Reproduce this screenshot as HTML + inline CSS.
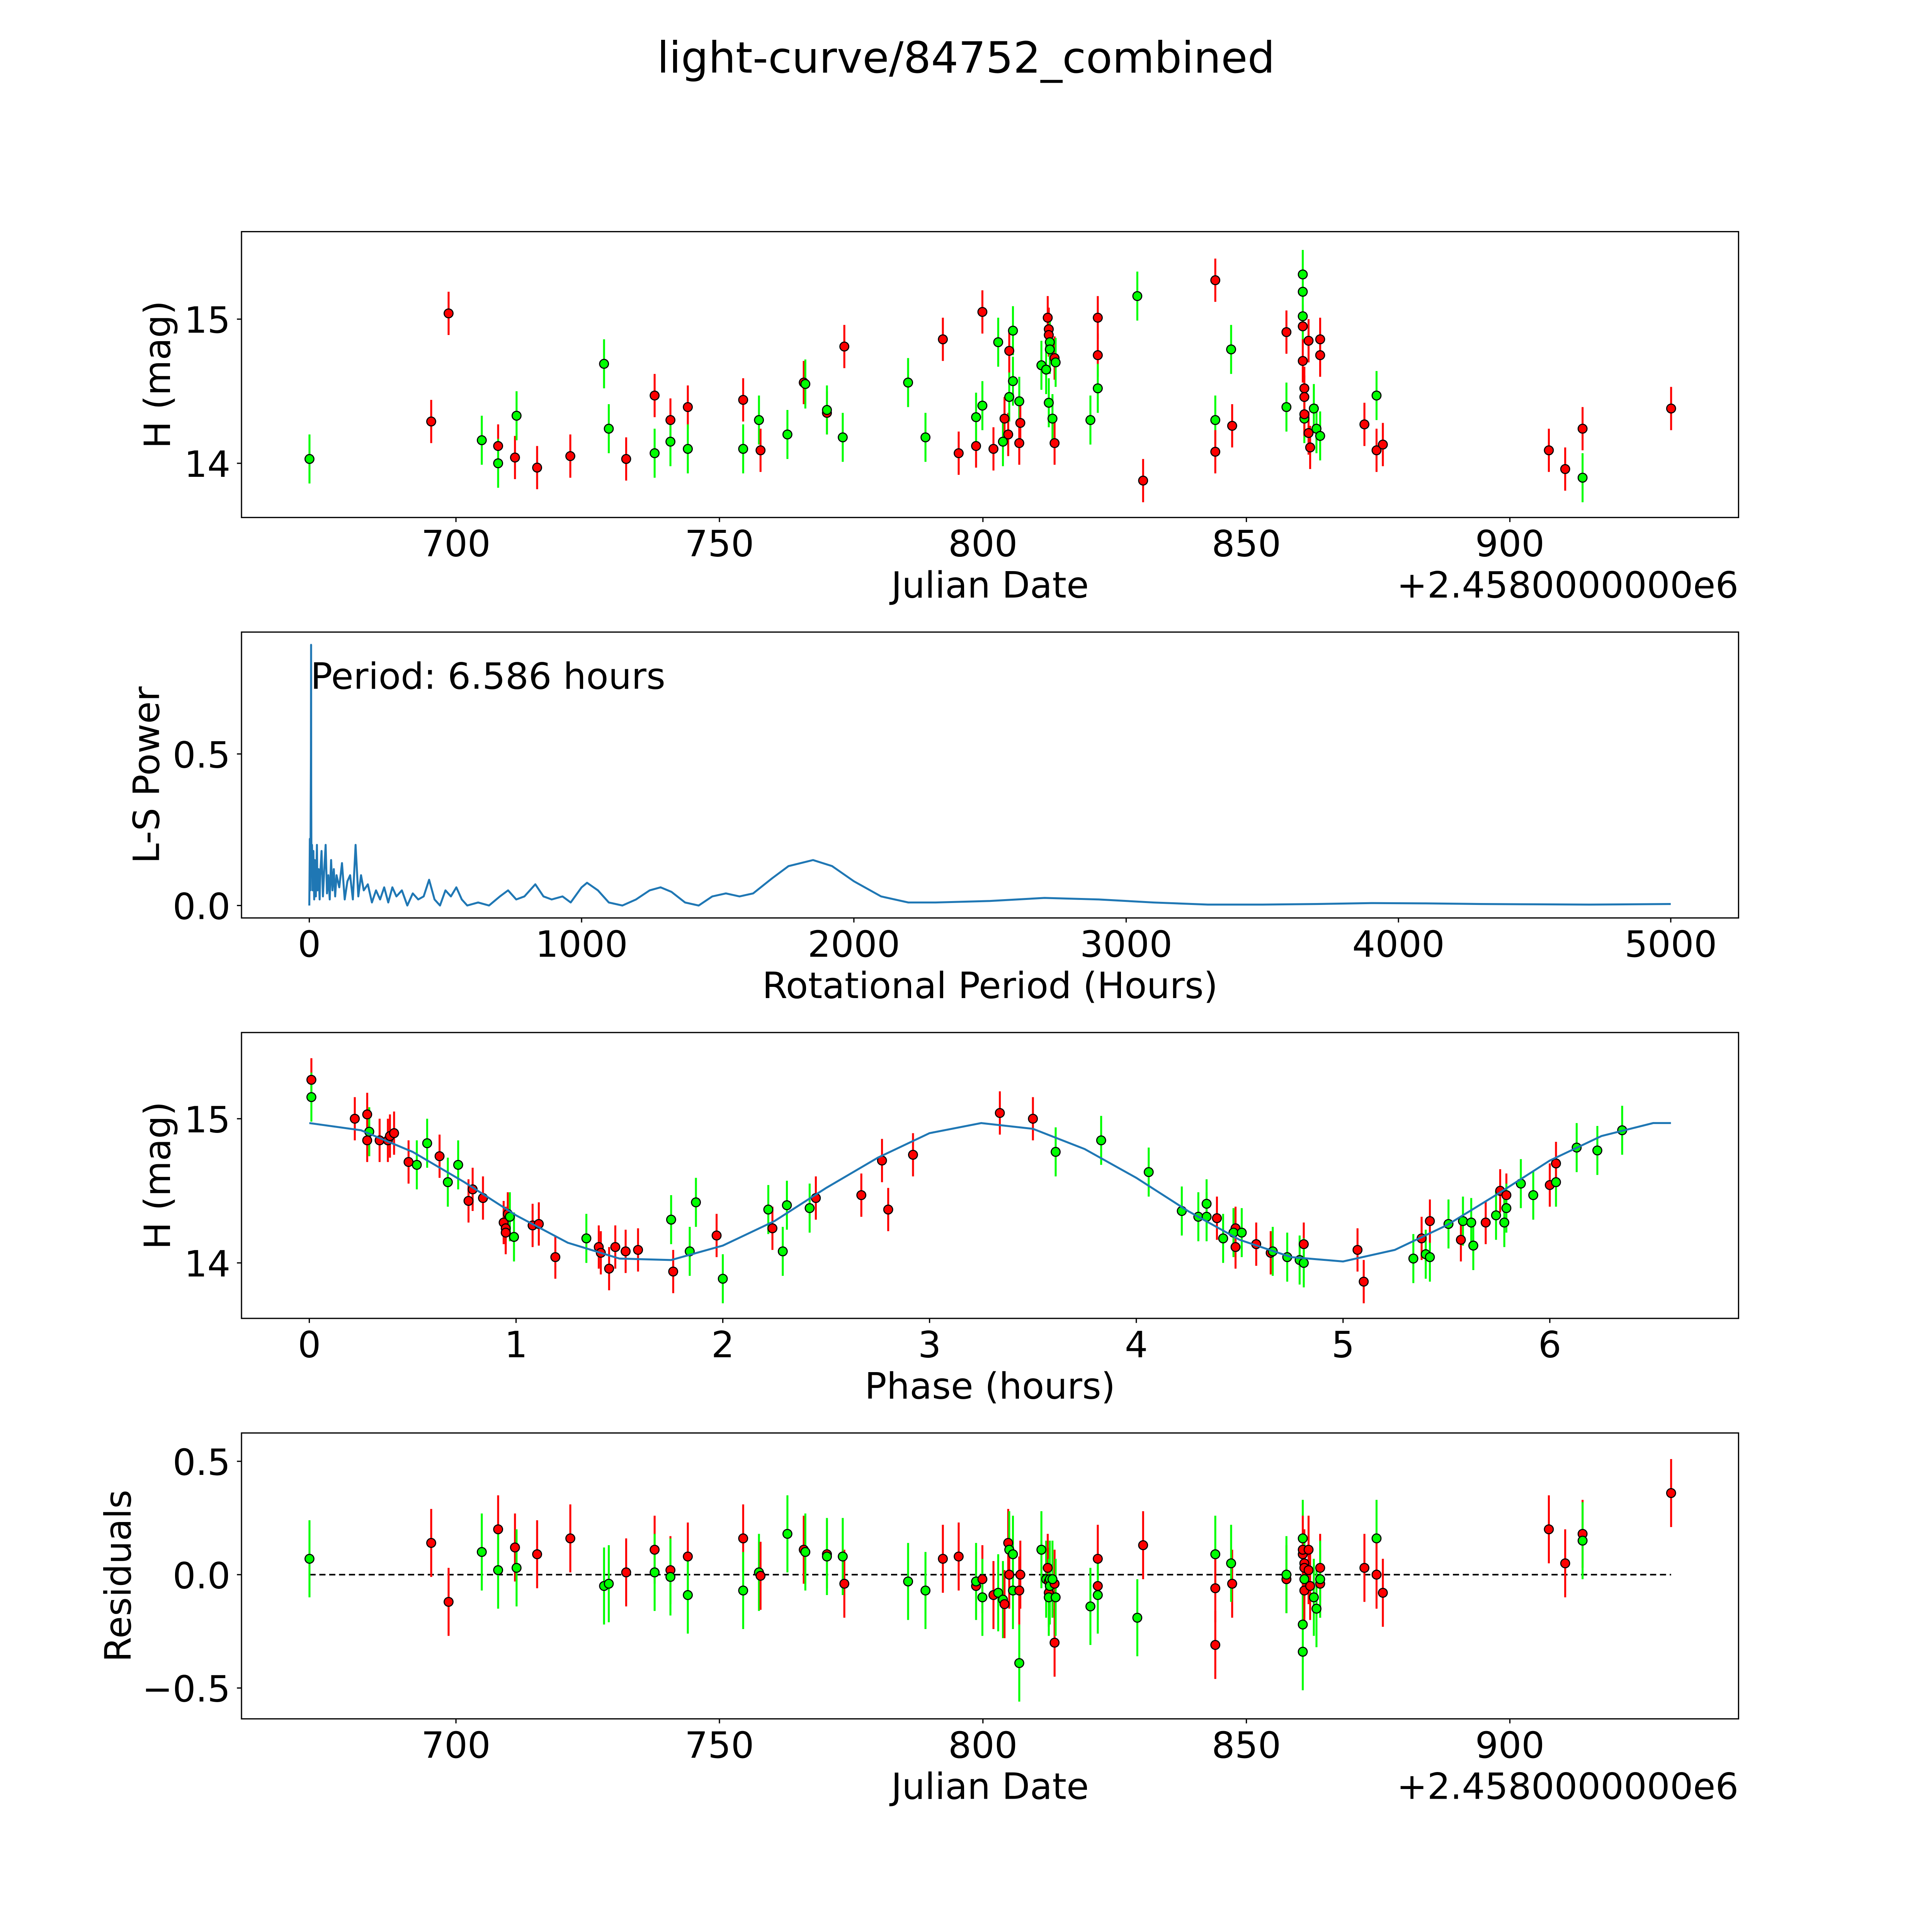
<!DOCTYPE html>
<html><head><meta charset="utf-8"><style>
html,body{margin:0;padding:0;background:#fff;width:100%;height:100%;overflow:hidden;}
svg{display:block;position:fixed;left:0;top:0;width:100vw;height:100vh;}
text{font-family:"DejaVu Sans","Liberation Sans",sans-serif;fill:#000;}
</style></head><body>
<svg id="fig" viewBox="0 0 1568 1568" preserveAspectRatio="none" xmlns="http://www.w3.org/2000/svg">
<rect width="1568" height="1568" fill="#fff"/>
<text x="784" y="59" font-size="35" text-anchor="middle">light-curve/84752_combined</text>
</svg>
<script>
// ---- data: observations (Julian date offsets, H mag, residuals, colour) ----
const obsDate = [672.2,695.3,698.6,704.9,708.0,708.0,711.2,711.5,715.4,721.7,728.1,729.0,732.3,737.7,737.7,740.7,740.7,744.0,744.0,754.5,754.5,757.5,757.8,762.9,766.0,766.3,770.4,770.4,773.7,773.4,785.8,789.1,792.4,795.4,798.7,798.7,799.9,799.9,802.0,802.9,803.8,804.1,804.8,805.0,805.0,805.7,805.7,806.9,806.9,807.1,811.1,812.0,812.3,812.5,812.5,812.5,812.7,812.7,813.6,813.2,813.6,813.8,820.4,821.8,821.8,821.8,829.3,830.4,844.1,844.1,844.1,847.3,847.1,857.6,857.6,860.7,860.7,860.7,860.7,860.7,861.0,861.0,861.0,861.0,861.8,861.8,862.1,862.8,863.3,864.0,864.0,864.0,872.4,874.7,874.7,875.9,907.4,910.5,913.8,913.8,930.6];
const obsMag = [14.03,14.29,15.04,14.16,14.12,14.00,14.04,14.33,13.97,14.05,14.69,14.24,14.03,14.47,14.07,14.30,14.15,14.39,14.10,14.44,14.10,14.30,14.09,14.20,14.56,14.55,14.35,14.37,14.81,14.18,14.56,14.18,14.86,14.07,14.12,14.32,15.05,14.40,14.10,14.84,14.15,14.31,14.20,14.46,14.78,14.92,14.57,14.43,14.14,14.28,14.68,14.65,15.01,14.93,14.89,14.42,14.84,14.79,14.73,14.31,14.14,14.70,14.30,14.75,15.01,14.52,15.16,13.88,15.27,14.30,14.08,14.26,14.79,14.91,14.39,14.95,15.02,15.19,15.31,14.71,14.52,14.46,14.31,14.34,14.85,14.21,14.11,14.38,14.24,14.86,14.75,14.19,14.27,14.47,14.09,14.13,14.09,13.96,14.24,13.90,14.38];
const obsResid = [0.07,0.14,-0.12,0.10,0.20,0.02,0.12,0.03,0.09,0.16,-0.05,-0.04,0.01,0.11,0.01,0.02,-0.01,0.08,-0.09,0.16,-0.07,0.01,-0.005,0.18,0.11,0.10,0.09,0.08,-0.04,0.08,-0.03,-0.07,0.07,0.08,-0.05,-0.03,-0.02,-0.10,-0.09,-0.08,-0.11,-0.13,0.14,0.11,0.0,-0.07,0.09,-0.39,-0.07,0.0,0.11,-0.02,0.03,-0.03,-0.08,-0.10,-0.02,-0.05,-0.04,-0.02,-0.30,-0.10,-0.14,0.07,-0.05,-0.09,-0.19,0.13,-0.31,0.09,-0.06,-0.04,0.05,-0.02,0.0,0.09,0.16,-0.22,-0.34,0.11,0.05,0.03,-0.02,-0.07,0.11,0.02,-0.05,-0.10,-0.15,0.03,-0.04,-0.02,0.03,0.16,0.0,-0.08,0.20,0.05,0.18,0.15,0.36];
const obsCol = "grrgrgrgrr"+"ggrrgrgrgr"+"ggrgrgrgrg"+"ggrrrgrgrg"+"grrgrgggrr"+"ggrrrgggrg"+"rggrrggrrg"+"rrgrgrgggr"+"rrgrrrrggr"+"rgrgrrrrrgr";
const ERR_R = 0.15, ERR_G = 0.17;
// ---- data: phase-folded ----
const phPhase = [0.01,0.01,0.22,0.28,0.29,0.28,0.34,0.38,0.39,0.41,0.48,0.52,0.57,0.63,0.67,0.72,0.77,0.79,0.84,0.94,0.95,0.96,0.97,0.95,0.99,1.08,1.11,1.19,1.34,1.40,1.41,1.45,1.48,1.53,1.59,1.75,1.76,1.84,1.87,1.97,2.00,2.22,2.24,2.29,2.31,2.42,2.45,2.67,2.77,2.80,2.92,3.34,3.50,3.61,3.83,4.06,4.22,4.30,4.34,4.34,4.39,4.42,4.48,4.47,4.48,4.51,4.58,4.65,4.66,4.73,4.79,4.81,4.81,5.07,5.10,5.34,5.38,5.40,5.42,5.42,5.51,5.57,5.58,5.62,5.63,5.69,5.74,5.76,5.78,5.79,5.79,5.86,5.92,6.00,6.03,6.03,6.13,6.23,6.35,6.44,6.51,6.54];
const phMag = [15.27,15.15,15.00,15.03,14.91,14.85,14.85,14.85,14.88,14.90,14.70,14.68,14.83,14.74,14.56,14.68,14.43,14.51,14.45,14.28,14.24,14.34,14.32,14.21,14.18,14.26,14.27,14.04,14.17,14.11,14.07,13.96,14.11,14.08,14.09,14.30,13.94,14.08,14.42,14.19,13.89,14.37,14.24,14.08,14.40,14.38,14.45,14.47,14.71,14.37,14.75,15.04,15.00,14.77,14.85,14.63,14.36,14.32,14.32,14.41,14.31,14.17,14.24,14.21,14.11,14.21,14.13,14.07,14.08,14.04,14.02,14.13,14.00,14.09,13.87,14.03,14.17,14.06,14.04,14.29,14.27,14.16,14.29,14.28,14.12,14.28,14.33,14.50,14.28,14.47,14.38,14.55,14.47,14.54,14.56,14.69,14.80,14.78,14.92,15.01,15.18,15.30];
const phCol = "rgrrgrrrrr"+"rggrggrrrr"+"rrgrgrrrgr"+"rrrrrgrggr"+"ggrgggrrrr"+"rrrgggggggrg"+"rgrgrrgggr"+"grrgrggrgr"+"gggrgrgr"+"gggrgrggg";
const modelPhase = [0,0.25,0.5,0.75,1.0,1.25,1.5,1.75,2.0,2.25,2.5,2.75,3.0,3.25,3.5,3.75,4.0,4.25,4.5,4.75,5.0,5.25,5.5,5.75,6.0,6.25,6.5,6.586];
const modelMag = [14.97,14.92,14.77,14.56,14.33,14.14,14.03,14.02,14.12,14.29,14.52,14.73,14.90,14.97,14.93,14.79,14.59,14.36,14.16,14.04,14.01,14.09,14.26,14.48,14.71,14.88,14.97,14.97];
// ---- data: periodogram ----
const lsPeriod = [0,2,4,5,6,6.6,7,8,10,12,15,18,20,24,28,30,34,38,40,45,50,55,60,65,70,75,80,85,90,95,100,110,120,130,140,150,160,170,180,190,200,215,230,245,260,275,290,305,320,340,360,380,400,420,440,460,480,500,520,540,560,580,620,660,700,730,760,790,830,860,890,930,960,1000,1020,1060,1100,1150,1200,1250,1290,1330,1380,1430,1480,1530,1580,1630,1700,1760,1850,1920,2000,2100,2200,2300,2500,2700,2900,3100,3300,3500,3700,3900,4100,4300,4500,4700,5000];
const lsPower = [0.0,0.22,0.05,0.3,0.5,0.86,0.4,0.1,0.2,0.05,0.18,0.02,0.15,0.03,0.2,0.05,0.12,0.02,0.1,0.18,0.03,0.12,0.2,0.04,0.1,0.02,0.15,0.05,0.12,0.03,0.1,0.06,0.14,0.02,0.08,0.1,0.02,0.2,0.03,0.1,0.05,0.07,0.01,0.05,0.02,0.06,0.01,0.06,0.03,0.05,0.0,0.04,0.02,0.03,0.085,0.02,0.0,0.05,0.03,0.06,0.02,0.0,0.01,0.0,0.03,0.05,0.02,0.03,0.07,0.03,0.02,0.03,0.01,0.06,0.075,0.05,0.01,0.0,0.02,0.05,0.06,0.045,0.01,0.0,0.03,0.04,0.03,0.04,0.09,0.13,0.15,0.13,0.08,0.03,0.01,0.01,0.015,0.025,0.02,0.01,0.003,0.003,0.005,0.008,0.007,0.005,0.004,0.003,0.005];
// ---- tick labels ----
const jdTicks = [700,750,800,850,900];
const magTicks = [14,15];
const lsXTicks = [0,1000,2000,3000,4000,5000];
const lsYTicks = [0.0,0.5];
const phTicks = [0,1,2,3,4,5,6];
const resTicks = [-0.5,0.0,0.5];

const NS = "http://www.w3.org/2000/svg";
const svg = document.getElementById('fig');
function mk(tag, attrs, parent){ const e=document.createElementNS(NS,tag); for(const k in attrs) e.setAttribute(k,attrs[k]); (parent||svg).appendChild(e); return e; }
function lin(d0,d1,p0,p1){ return v => p0 + (v-d0)*(p1-p0)/(d1-d0); }
const L=196,R=1411;
const xJD = lin(659.3,943.4,L,R);
const xLS = lin(-249,5249,L,R);
const xPH = lin(-0.328,6.913,L,R);
const y1 = lin(13.624,15.607,420,188);
const y2 = lin(-0.041,0.902,745,513);
const y3 = lin(13.615,15.598,1070,838);
const y4 = lin(-0.636,0.625,1395,1163);
const COLS={r:'#ff0000',g:'#00ff00'};
const FS=29.5;

function axes(name,top,bot,xs,xt,xfmt,ys,yt,yfmt,xlabel,ylabel,ylabX,offset){
  const g=mk('g',{});
  
  
  const frame=mk('rect',{x:L,y:top,width:R-L,height:bot-top,fill:'none',stroke:'#000','stroke-width':1},g);
  
  
  xt.forEach(v=>{ const x=xs(v);
    mk('line',{x1:x,x2:x,y1:bot,y2:bot+3.7,stroke:'#000','stroke-width':1},g);
    const t=mk('text',{x:x,y:bot+31.5,'font-size':FS,'text-anchor':'middle'},g); t.textContent=xfmt(v);
    
    
  });
  yt.forEach(v=>{ const y=ys(v);
    mk('line',{x1:L-3.7,x2:L,y1:y,y2:y,stroke:'#000','stroke-width':1},g);
    const t=mk('text',{x:L-9,y:y+11,'font-size':FS,'text-anchor':'end'},g); t.textContent=yfmt(v);
    
    
  });
  const xl=mk('text',{x:(L+R)/2,y:bot+65,'font-size':FS,'text-anchor':'middle'},g); xl.textContent=xlabel;
  
  
  const cy=(top+bot)/2;
  const yl=mk('text',{x:ylabX,y:cy,'font-size':FS,'text-anchor':'middle',transform:`rotate(-90 ${ylabX} ${cy})`},g); yl.textContent=ylabel;
  
  
  if(offset){ const o=mk('text',{x:R,y:bot+65,'font-size':FS,'text-anchor':'end'},g); o.textContent=offset;
    
     }
  return g;
}
function points(parent,xs,ys,xv,yv,cols,name){
  const n=Math.min(xv.length,yv.length,cols.length);
  for(let i=0;i<n;i++){
    const c=cols[i]; const e=c==='r'?ERR_R:ERR_G;
    const x=xs(xv[i]);
    const l=mk('line',{x1:x,x2:x,y1:ys(yv[i]-e),y2:ys(yv[i]+e),stroke:COLS[c],'stroke-width':1.6},parent);
    
    
  }
  for(let i=0;i<n;i++){
    const c=cols[i];
    const p=mk('circle',{cx:xs(xv[i]),cy:ys(yv[i]),r:3.6,fill:COLS[c],stroke:'#000','stroke-width':0.9},parent);
    
    
  }
}
const fmt0=v=>String(v), fmt1=v=>(v<0?'\u2212':'')+Math.abs(v).toFixed(1);
const OFF='+2.4580000000e6';

// panel 1
const g1=axes('light-curve-panel',188,420,xJD,jdTicks,fmt0,y1,magTicks,fmt0,'Julian Date','H (mag)',138,OFF);
points(g1,xJD,y1,obsDate,obsMag,obsCol,'observation');

// panel 2
const g2=axes('periodogram-panel',513,745,xLS,lsXTicks,fmt0,y2,lsYTicks,fmt1,'Rotational Period (Hours)','L-S Power',129,null);
let d='';
for(let i=0;i<lsPeriod.length;i++) d+=(i?'L':'M')+xLS(lsPeriod[i]).toFixed(2)+' '+y2(lsPower[i]).toFixed(2);
const ls=mk('path',{d:d,fill:'none',stroke:'#1f77b4','stroke-width':1.6,'stroke-linejoin':'round'},g2);


const pt=mk('text',{x:252,y:559,'font-size':FS},g2); pt.textContent='Period: 6.586 hours';



// panel 3
const g3=axes('phase-panel',838,1070,xPH,phTicks,fmt0,y3,magTicks,fmt0,'Phase (hours)','H (mag)',138,null);
points(g3,xPH,y3,phPhase,phMag,phCol,'phase');
let dm='';
for(let i=0;i<modelPhase.length;i++) dm+=(i?'L':'M')+xPH(modelPhase[i]).toFixed(2)+' '+y3(modelMag[i]).toFixed(2);
const ml=mk('path',{d:dm,fill:'none',stroke:'#1f77b4','stroke-width':1.6},g3);



// panel 4
const g4=axes('residuals-panel',1163,1395,xJD,jdTicks,fmt0,y4,resTicks,fmt1,'Julian Date','Residuals',106,OFF);
const zl=mk('line',{x1:xJD(obsDate[0]),x2:xJD(obsDate[obsDate.length-1]),y1:y4(0),y2:y4(0),stroke:'#000','stroke-width':1.3,'stroke-dasharray':'5 3'},g4);


points(g4,xJD,y4,obsDate,obsResid,obsCol,'residual');
</script>
</body></html>
